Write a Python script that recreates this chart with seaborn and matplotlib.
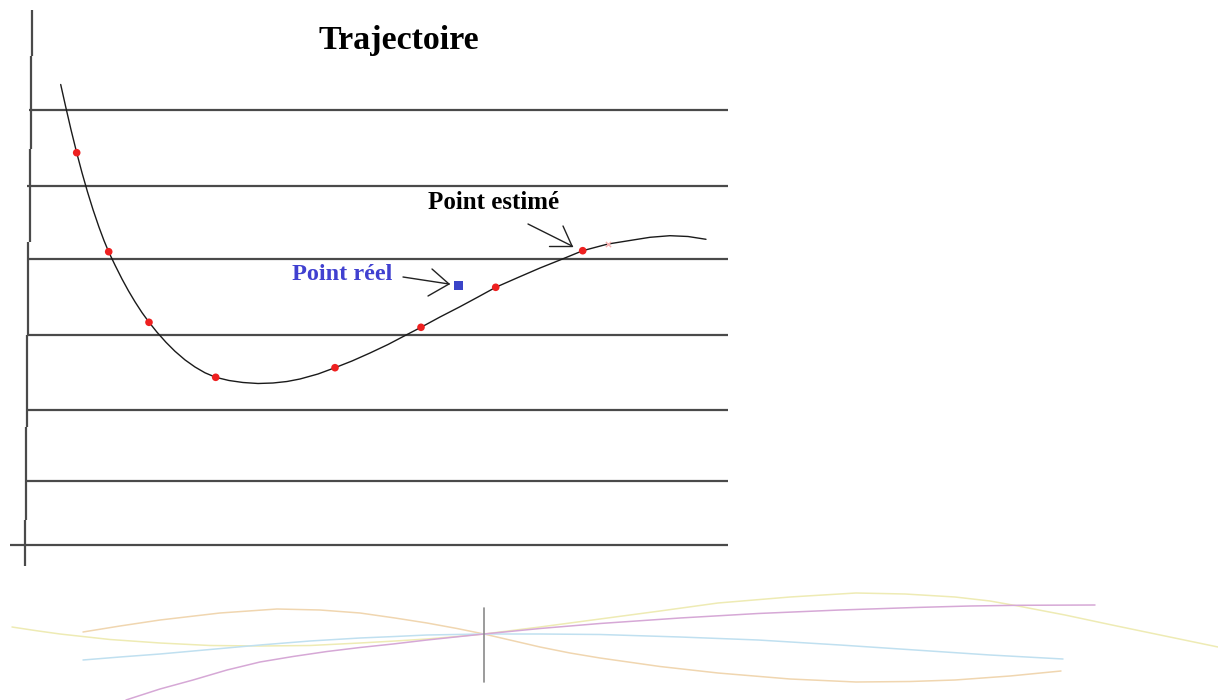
import numpy as np
import pandas as pd
import matplotlib
matplotlib.use("Agg")
import matplotlib.pyplot as plt
import seaborn as sns

# ── data (pixel coordinates, y grows downward) ──
curve_x = [60.7, 65.7, 71, 76.7, 82, 87.5, 93, 99, 104, 108.7, 115, 122, 128.5,
           135, 142, 149, 157, 166, 175, 185, 195, 205, 215.7, 229, 243, 258, 273,
           287, 300, 318, 335, 352, 370, 388, 406.7, 421, 440, 460, 478, 495.7, 518,
           540, 560, 582.7, 608, 633, 650, 670, 688, 706]
curve_y = [84.5, 106.8, 129.7, 152.7, 172.7, 191.9, 209.6, 227.2, 240.6, 251.9,
           265.1, 279, 290.9, 301.8, 312.6, 322.2, 332.2, 342.3, 351.3, 359.9, 367,
           372.8, 377.3, 380.5, 382.5, 383.5, 383, 381.5, 379, 374, 367.7, 361, 353,
           344.5, 334.7, 327.3, 317, 306.7, 297, 287.3, 277.5, 268, 260, 250.7, 244,
           240, 237.3, 235.7, 236.5, 239.3]

est_x = [76.7, 108.7, 149, 215.7, 335, 421, 495.7, 582.7]
est_y = [152.7, 251.7, 322.3, 377.3, 367.7, 327.3, 287.3, 250.7]

reel_x = [458.7]
reel_y = [285.7]

grid_y = [110, 186, 259, 335, 410, 481, 545]
grid_x0 = [29, 27, 27, 27, 27, 26, 10]
grid_x1 = [728, 728, 728, 728, 728, 728, 728]

axis_x = [32, 31, 29.5, 28, 27, 25.7, 24.7]
axis_y0 = [10, 56, 149, 242, 335, 427, 520]
axis_y1 = [56, 149, 242, 335, 427, 520, 566]

# faint curves at the bottom
orange_x = [83, 120, 160, 220, 277, 320, 360, 395, 427, 457, 484, 512, 540, 570,
            600, 660, 718, 790, 856, 910, 955, 1010, 1061]
orange_y = [632, 626, 620, 613, 609, 610, 613, 618, 623, 628.5, 634, 640.5, 647,
            653, 658, 666.5, 673, 679, 682, 681.5, 680, 676, 671]
yellow_x = [12, 35, 60, 110, 160, 210, 260, 310, 360, 395, 427, 457, 484, 540, 600,
            660, 718, 790, 856, 905, 955, 990, 1018, 1065, 1112, 1165, 1218]
yellow_y = [627, 630.5, 634, 639.5, 643, 645.5, 646, 645.5, 643, 641, 639, 636.5,
            634, 627, 619, 611, 603, 597, 593, 594, 597, 601, 606, 615, 625, 636, 647]
blue_x = [83, 120, 160, 210, 260, 310, 360, 395, 427, 484, 540, 600, 680, 758, 840,
          915, 990, 1063]
blue_y = [660, 657, 654, 649.5, 645, 641, 638, 636.5, 635, 634, 634, 634.5, 637,
          640, 645, 650, 655, 659]
purple_x = [126, 160, 193, 227, 260, 293, 327, 360, 393, 427, 460, 484, 540, 600,
            680, 758, 840, 915, 970, 1018, 1095]
purple_y = [700, 689, 680, 670, 662, 656.5, 651.5, 647.5, 644, 640, 636.5, 634,
            628.5, 623.5, 618, 613.5, 610, 607.5, 606, 605.3, 605]

cross_x = [484, 484]
cross_y = [608, 682]

# arrows: tail, tip, two head ends
arrow_est = [(528, 224), (572, 246), (563, 226), (549, 246)]
arrow_reel = [(403, 277), (449, 284), (432, 269), (428, 296)]

# ── setup ──
sns.set_style("white")
plt.rcParams["font.family"] = ["Liberation Serif", "DejaVu Serif"]

fig = plt.figure(figsize=(12.18, 7), dpi=100)
ax = fig.add_axes([0, 0, 1, 1])
ax.set_xlim(0, 1218)
ax.set_ylim(700, 0)
ax.axis("off")

# horizontal rules and the hand-drawn vertical axis
ax.hlines(grid_y, grid_x0, grid_x1, color="#4a4a4a", lw=1.6)
ax.vlines(axis_x, axis_y0, axis_y1, color="#4a4a4a", lw=1.6)

# trajectory
sns.lineplot(x=curve_x, y=curve_y, sort=False, estimator=None, color="#1a1a1a",
             lw=1.0, ax=ax)
sns.scatterplot(x=est_x, y=est_y, color="#ee2020", s=30, marker="o",
                edgecolor="none", ax=ax, zorder=5)
ax.scatter([608], [244], color="#f6b0b0", s=14, marker="x", lw=1, zorder=4)
sns.scatterplot(x=reel_x, y=reel_y, color="#3a44c8", s=45, marker="s",
                edgecolor="none", ax=ax, zorder=5)

# arrows
for tail, tip, h1, h2 in [arrow_est, arrow_reel]:
    for p in (tail, h1, h2):
        ax.plot([p[0], tip[0]], [p[1], tip[1]], color="#222222", lw=1.0)

# texts
ax.text(399, 49, "Trajectoire", ha="center", va="baseline", fontsize=24.5,
        fontweight="bold", color="black")
ax.text(428, 209, "Point estimé", ha="left", va="baseline", fontsize=18,
        fontweight="bold", color="black")
ax.text(292, 280, "Point réel", ha="left", va="baseline", fontsize=17.5,
        fontweight="bold", color="#4040d0")

# faint curves at the bottom
faint = [(orange_x, orange_y, "#f0d6b0"), (yellow_x, yellow_y, "#eeebb4"),
         (blue_x, blue_y, "#c0e0f0"), (purple_x, purple_y, "#d6a8d6")]
for xs, ys, c in faint:
    sns.lineplot(x=xs, y=ys, sort=False, estimator=None, color=c, lw=1.1, ax=ax)
ax.plot(cross_x, cross_y, color="#8a8a8a", lw=1.2)

fig.savefig("out.png", dpi=100)
